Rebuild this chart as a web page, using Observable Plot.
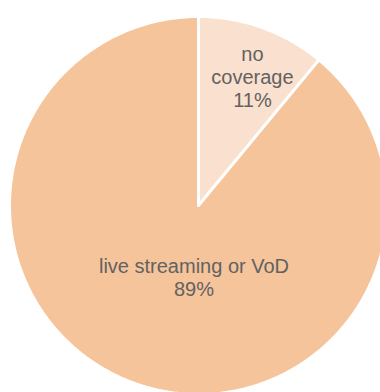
<!DOCTYPE html>
<html>
<head>
<meta charset="utf-8">
<script src="https://cdn.jsdelivr.net/npm/d3@7"></script>
<script src="https://cdn.jsdelivr.net/npm/@observablehq/plot@0.6"></script>
<style>
  html, body { margin: 0; padding: 0; background: #fff; overflow: hidden; }
  svg { display: block; }
</style>
</head>
<body>
<div id="chart"></div>
<script>
// ---- data ----
const categories = ["no coverage", "live streaming or VoD"];
const shares = [11, 89];
const sliceColors = ["#FAE0CE", "#F6C49B"];

// ---- layout constants ----
const W = 380, H = 392;
const cx = 198, cy = 205, R = 189;

// build slice polygons (clockwise from 12 o'clock)
const total = d3.sum(shares);
const pts = [];
const labels = [];
let start = 0;
categories.forEach((cat, i) => {
  const a0 = start / total * 2 * Math.PI;
  const a1 = (start + shares[i]) / total * 2 * Math.PI;
  start += shares[i];
  pts.push({cat, color: sliceColors[i], x: 0, y: 0});
  const n = Math.max(4, Math.ceil((a1 - a0) / (Math.PI / 180)));
  for (let k = 0; k <= n; k++) {
    const a = a0 + (a1 - a0) * k / n;
    pts.push({cat, color: sliceColors[i], x: R * Math.sin(a), y: R * Math.cos(a)});
  }
  pts.push({cat, color: sliceColors[i], x: 0, y: 0});
  // label placement: small slice near rim along mid-angle, big slice below the centre
  const frac = shares[i] / total;
  let la, lr;
  if (frac > 0.5) { la = Math.PI * 1.02; lr = 0.38 * R; }
  else { la = (a0 + a1) / 2 + 0.05; lr = 0.74 * R; }
  labels.push({text: `${cat.replace("no coverage", "no\ncoverage")}\n${shares[i]}%`,
               x: lr * Math.sin(la), y: lr * Math.cos(la)});
});

const chart = Plot.plot({
  width: W,
  height: H,
  margin: 0,
  x: {domain: [-cx, W - cx], axis: null},
  y: {domain: [-(H - cy), cy], axis: null},
  style: {background: "#fff"},
  marks: [
    Plot.line(pts, {x: "x", y: "y", z: "cat", fill: "color", stroke: "#fff",
                    strokeWidth: 3, strokeLinejoin: "miter", curve: "linear"}),
    Plot.text(labels, {x: "x", y: "y", text: "text", fill: "#626262",
                       fontSize: 20, lineHeight: 1.17,
                       fontFamily: "'Liberation Sans', Arial, sans-serif"})
  ]
});
document.getElementById("chart").appendChild(chart);
</script>
</body>
</html>
